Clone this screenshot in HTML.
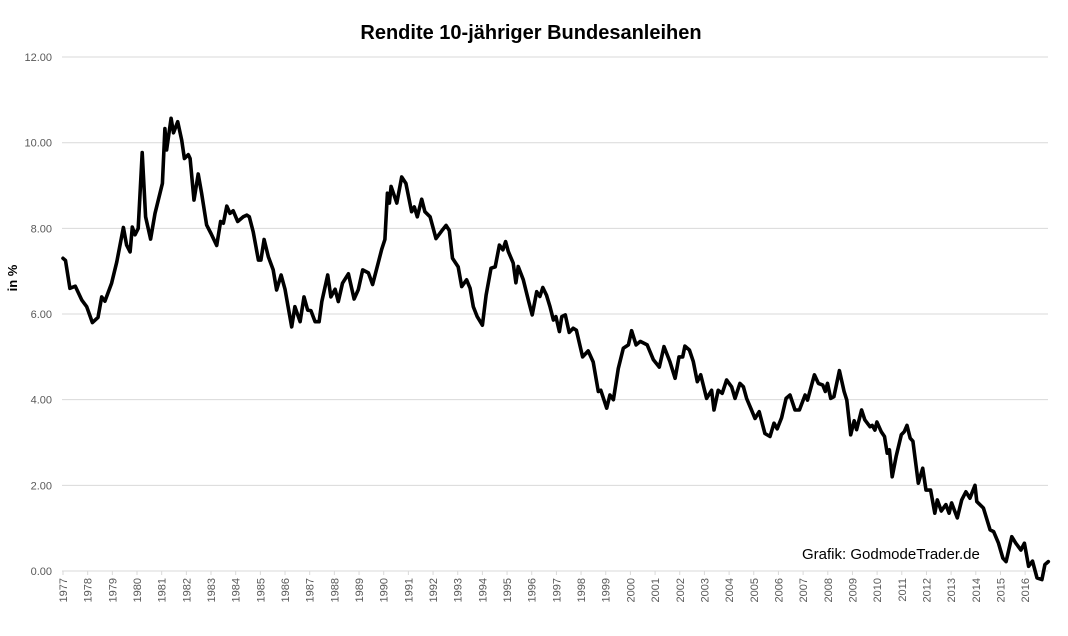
<!DOCTYPE html>
<html><head><meta charset="utf-8"><style>
body{margin:0;background:#fff;}
svg text{font-family:"Liberation Sans",sans-serif;}
</style></head><body>
<svg id="chart" width="1068" height="631" xmlns="http://www.w3.org/2000/svg">
<rect width="1068" height="631" fill="#fff"/>
<text x="531" y="39" text-anchor="middle" font-size="20" font-weight="bold" fill="#000">Rendite 10-jähriger Bundesanleihen</text>
<text transform="translate(17,278) rotate(-90)" text-anchor="middle" font-size="13" font-weight="bold" fill="#000">in %</text>
<g id="grid"></g><g id="xaxis"></g>
<path id="line" fill="none" stroke="#000" stroke-width="3.6" stroke-linejoin="round" stroke-linecap="round"/>
<text x="802" y="559" font-size="15" fill="#000">Grafik: GodmodeTrader.de</text>
</svg>
<script>
const yTicks=[0,2,4,6,8,10,12];
const years=[1977,1978,1979,1980,1981,1982,1983,1984,1985,1986,1987,1988,1989,1990,1991,1992,1993,1994,1995,1996,1997,1998,1999,2000,2001,2002,2003,2004,2005,2006,2007,2008,2009,2010,2011,2012,2013,2014,2015,2016];
const dates=[1977.0,1977.1,1977.28,1977.5,1977.76,1977.96,1978.19,1978.42,1978.57,1978.7,1978.97,1979.18,1979.45,1979.58,1979.72,1979.81,1979.92,1980.05,1980.21,1980.35,1980.55,1980.73,1980.93,1981.03,1981.13,1981.2,1981.38,1981.48,1981.65,1981.81,1981.92,1982.08,1982.15,1982.31,1982.48,1982.62,1982.82,1983.0,1983.23,1983.39,1983.5,1983.64,1983.77,1983.9,1984.08,1984.31,1984.45,1984.55,1984.71,1984.92,1985.02,1985.15,1985.32,1985.52,1985.66,1985.84,1986.0,1986.27,1986.4,1986.61,1986.77,1986.92,1987.05,1987.22,1987.38,1987.49,1987.73,1987.86,1988.03,1988.16,1988.33,1988.57,1988.8,1988.97,1989.15,1989.38,1989.55,1989.78,1989.92,1990.05,1990.15,1990.23,1990.3,1990.53,1990.73,1990.9,1991.13,1991.24,1991.36,1991.54,1991.67,1991.88,1992.12,1992.35,1992.53,1992.66,1992.79,1993.02,1993.16,1993.36,1993.5,1993.63,1993.79,1994.0,1994.15,1994.35,1994.52,1994.69,1994.83,1994.94,1995.05,1995.25,1995.36,1995.45,1995.66,1995.86,1996.02,1996.2,1996.33,1996.45,1996.6,1996.74,1996.88,1996.98,1997.12,1997.22,1997.36,1997.52,1997.68,1997.81,1998.06,1998.29,1998.49,1998.7,1998.8,1999.04,1999.17,1999.31,1999.51,1999.71,1999.92,2000.05,2000.23,2000.4,2000.68,2000.93,2001.17,2001.36,2001.6,2001.81,2001.97,2002.12,2002.21,2002.39,2002.55,2002.71,2002.85,2003.09,2003.29,2003.39,2003.56,2003.72,2003.9,2004.1,2004.24,2004.44,2004.58,2004.71,2004.91,2005.05,2005.22,2005.45,2005.66,2005.82,2005.95,2006.13,2006.31,2006.47,2006.67,2006.85,2007.08,2007.18,2007.46,2007.62,2007.8,2007.9,2007.99,2008.12,2008.25,2008.47,2008.66,2008.77,2008.93,2009.07,2009.17,2009.37,2009.5,2009.71,2009.8,2009.91,2009.99,2010.17,2010.3,2010.41,2010.5,2010.61,2010.77,2010.98,2011.1,2011.21,2011.34,2011.45,2011.67,2011.85,2011.98,2012.17,2012.34,2012.44,2012.6,2012.79,2012.92,2013.02,2013.25,2013.43,2013.6,2013.76,2013.97,2014.04,2014.31,2014.58,2014.72,2014.92,2015.1,2015.23,2015.46,2015.62,2015.83,2015.97,2016.14,2016.3,2016.48,2016.68,2016.8,2016.94];
const values=[7.3,7.25,6.6,6.65,6.33,6.17,5.8,5.92,6.4,6.3,6.72,7.22,8.02,7.61,7.45,8.03,7.85,8.0,9.77,8.27,7.75,8.35,8.82,9.05,10.33,9.83,10.57,10.23,10.49,10.06,9.63,9.72,9.63,8.66,9.27,8.82,8.08,7.88,7.6,8.16,8.12,8.52,8.35,8.41,8.16,8.27,8.31,8.27,7.92,7.26,7.26,7.74,7.34,7.03,6.56,6.91,6.58,5.7,6.17,5.82,6.4,6.09,6.08,5.82,5.82,6.29,6.91,6.4,6.58,6.29,6.72,6.94,6.35,6.57,7.03,6.96,6.69,7.2,7.51,7.74,8.82,8.59,8.98,8.59,9.2,9.05,8.39,8.5,8.27,8.68,8.39,8.27,7.76,7.94,8.07,7.95,7.3,7.1,6.64,6.8,6.6,6.17,5.94,5.74,6.44,7.07,7.1,7.61,7.5,7.69,7.46,7.19,6.73,7.11,6.8,6.33,5.98,6.52,6.41,6.62,6.44,6.17,5.86,5.94,5.59,5.94,5.98,5.57,5.67,5.62,5.0,5.14,4.88,4.19,4.22,3.8,4.11,4.0,4.73,5.2,5.28,5.61,5.28,5.36,5.28,4.93,4.76,5.24,4.89,4.5,5.0,5.0,5.25,5.16,4.89,4.42,4.58,4.03,4.22,3.76,4.22,4.15,4.46,4.3,4.03,4.38,4.3,4.03,3.76,3.56,3.72,3.21,3.14,3.45,3.32,3.58,4.03,4.11,3.76,3.76,4.11,3.99,4.58,4.38,4.34,4.19,4.38,4.03,4.07,4.68,4.19,3.99,3.18,3.51,3.3,3.76,3.53,3.37,3.4,3.29,3.48,3.25,3.14,2.75,2.83,2.2,2.67,3.18,3.25,3.4,3.1,3.03,2.05,2.4,1.89,1.89,1.35,1.66,1.4,1.55,1.35,1.59,1.24,1.66,1.85,1.7,2.0,1.62,1.47,0.96,0.92,0.65,0.3,0.22,0.8,0.65,0.49,0.65,0.11,0.23,-0.16,-0.2,0.15,0.22];
const x0=63,yrW=24.67,yBase=571,yUnit=42.83;
const xs=d=>x0+(d-1977)*yrW;
const ys=v=>yBase-v*yUnit;
const NS='http://www.w3.org/2000/svg';
const grid=document.getElementById('grid');
yTicks.forEach(t=>{
  const l=document.createElementNS(NS,'line');
  l.setAttribute('x1',62);l.setAttribute('x2',1048);
  l.setAttribute('y1',ys(t));l.setAttribute('y2',ys(t));
  l.setAttribute('stroke','#d9d9d9');l.setAttribute('stroke-width',1);
  
  
  grid.appendChild(l);
  const tx=document.createElementNS(NS,'text');
  tx.setAttribute('x',52);tx.setAttribute('y',ys(t)+4);
  tx.setAttribute('text-anchor','end');tx.setAttribute('font-size',11);tx.setAttribute('fill','#595959');
  tx.textContent=t.toFixed(2);
  
  
  grid.appendChild(tx);
});
const xa=document.getElementById('xaxis');
years.forEach(y=>{
  const x=xs(y);
  const l=document.createElementNS(NS,'line');
  l.setAttribute('x1',x);l.setAttribute('x2',x);l.setAttribute('y1',571);l.setAttribute('y2',575);
  l.setAttribute('stroke','#d9d9d9');
  
  
  xa.appendChild(l);
  const tx=document.createElementNS(NS,'text');
  tx.setAttribute('transform','translate('+(x+4)+',578) rotate(-90)');
  tx.setAttribute('text-anchor','end');tx.setAttribute('font-size',11);tx.setAttribute('fill','#595959');
  tx.textContent=y;
  
  
  xa.appendChild(tx);
});
let d='';
dates.forEach((dt,i)=>{d+=(i?'L':'M')+xs(dt).toFixed(1)+','+ys(values[i]).toFixed(1);});
document.getElementById('line').setAttribute('d',d);
</script>
</body></html>
